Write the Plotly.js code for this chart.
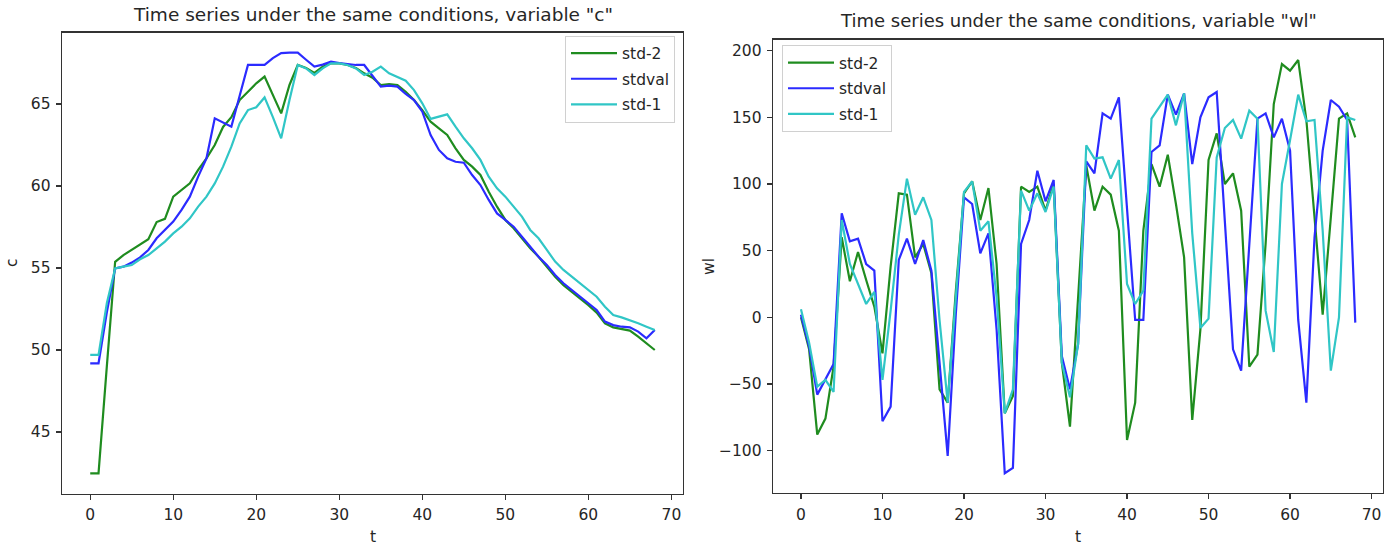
<!DOCTYPE html>
<html>
<head>
<meta charset="utf-8">
<script src="https://cdn.plot.ly/plotly-3.0.1.min.js"></script>
<style>
  html, body { margin: 0; padding: 0; background: #ffffff; }
  #chart { width: 1385px; height: 545px; }
</style>
</head>
<body>
<div id="chart"></div>
<script>
// ---- data ----
const t = Array.from({length: 69}, (_, i) => i);

const seriesNames = ["std-2", "stdval", "std-1"];
const seriesColors = ["#1f8c1f", "#2b2bff", "#30c6c6"];

// variable "c"
const cStd2 = [42.48, 42.48, 49.0, 55.38, 55.79, 56.1, 56.46, 56.75, 57.8, 58.0,
  59.35, 59.76, 60.16, 60.98, 61.69, 62.5, 63.6, 64.2, 65.24, 65.75,
  66.26, 66.67, 65.55, 64.43, 66.16, 67.38, 67.2, 66.9, 67.27, 67.48,
  67.48, 67.38, 67.2, 66.87, 66.6, 66.16, 66.22, 66.16, 65.75, 65.24,
  64.63, 63.92, 63.52, 63.11, 62.3, 61.59, 61.18, 60.67, 59.65, 58.74,
  57.93, 57.42, 56.81, 56.2, 55.69, 55.08, 54.47, 53.96, 53.56, 53.15,
  52.74, 52.28, 51.63, 51.38, 51.26, 51.18, 50.81, 50.41, 50.0];
const cStdval = [49.19, 49.19, 52.3, 54.98, 55.08, 55.33, 55.65, 56.1, 56.81, 57.32,
  57.83, 58.54, 59.35, 60.57, 61.69, 64.13, 63.86, 63.62, 65.5, 67.38,
  67.38, 67.38, 67.8, 68.1, 68.13, 68.13, 67.7, 67.28, 67.4, 67.58,
  67.5, 67.42, 67.38, 67.38, 66.7, 66.06, 66.12, 66.06, 65.61, 65.24,
  64.53, 63.11, 62.2, 61.69, 61.48, 61.42, 60.67, 60.06, 59.15, 58.33,
  57.93, 57.52, 56.91, 56.3, 55.69, 55.18, 54.57, 54.07, 53.66, 53.25,
  52.85, 52.44, 51.73, 51.52, 51.42, 51.38, 51.12, 50.71, 51.22];
const cStd1 = [49.7, 49.7, 52.85, 54.98, 55.08, 55.18, 55.53, 55.79, 56.2, 56.61,
  57.11, 57.52, 58.03, 58.74, 59.35, 60.16, 61.18, 62.4, 63.82, 64.63,
  64.8, 65.4, 64.2, 62.91, 65.24, 67.38, 67.17, 66.77, 67.17, 67.48,
  67.48, 67.38, 67.17, 66.77, 66.97, 67.28, 66.87, 66.63, 66.42, 65.85,
  65.04, 64.09, 64.23, 64.37, 63.62, 62.91, 62.3, 61.59, 60.57, 59.86,
  59.35, 58.74, 58.13, 57.32, 56.81, 56.1, 55.39, 54.88, 54.47, 54.07,
  53.66, 53.25, 52.64, 52.13, 51.99, 51.83, 51.63, 51.42, 51.22];

// variable "wl"
const wlStd2 = [0, -24, -88, -76, -37, 60, 27, 49, 28, 8,
  -27, 38, 93, 92, 45, 55, 33, -54, -64, 20,
  93, 102, 73, 97, 40, -72, -59, 98, 94, 98,
  80, 100, -34, -82, 15, 114, 80, 98, 92, 65,
  -92, -64, 65, 115, 98, 122, 85, 45, -77, -9,
  118, 138, 100, 108, 80, -37, -28, 55, 160, 190,
  185, 193, 148, 75, 2, 75, 149, 153, 135];
const wlStdval = [2, -22, -58, -47, -35, 78, 57, 59, 40, 35,
  -78, -67, 43, 59, 40, 58, 35, -34, -104, 3,
  90, 85, 48, 63, -9, -117, -113, 55, 73, 110,
  87, 103, -29, -54, -20, 117, 108, 153, 149, 165,
  80, -2, -2, 124, 129, 167, 152, 168, 115, 150,
  165, 169, 72, -24, -40, 55, 149, 153, 135, 149,
  125, -2, -64, 60, 125, 163, 158, 148, -4];
const wlStd1 = [6, -19, -52, -47, -56, 73, 40, 25, 10, 19,
  -47, 5, 62, 104, 77, 90, 73, -2, -64, 15,
  94, 102, 65, 72, 15, -72, -54, 95, 80, 93,
  79, 98, -34, -60, -20, 129, 119, 120, 104, 118,
  25, 10, 20, 149, 158, 167, 144, 168, 63, -8,
  -1, 120, 142, 148, 134, 155, 149, 5, -26, 100,
  133, 167, 147, 148, 65, -40, 0, 150, 148];

const xTicks = [0, 10, 20, 30, 40, 50, 60, 70];
const cTicks = [45, 50, 55, 60, 65];
const wlTicks = [-100, -50, 0, 50, 100, 150, 200];

const titleLeft = 'Time series under the same conditions, variable "c"';
const titleRight = 'Time series under the same conditions, variable "wl"';

// ---- traces ----
const cSeries = [cStd2, cStdval, cStd1];
const wlSeries = [wlStd2, wlStdval, wlStd1];
const traces = [];
cSeries.forEach((ys, i) => traces.push({
  x: t, y: ys, type: 'scatter', mode: 'lines', name: seriesNames[i],
  legendgroup: 'c' + i,
  line: {color: seriesColors[i], width: 2.2}, xaxis: 'x', yaxis: 'y', legend: 'legend'
}));
wlSeries.forEach((ys, i) => traces.push({
  x: t, y: ys, type: 'scatter', mode: 'lines', name: seriesNames[i],
  legendgroup: 'wl' + i,
  line: {color: seriesColors[i], width: 2.2}, xaxis: 'x2', yaxis: 'y2', legend: 'legend2'
}));

const W = 1385, H = 545;
const txt = '#262626';
const fam = 'DejaVu Sans, sans-serif';
const axisBase = {
  showgrid: false, zeroline: false, showline: true, mirror: true,
  linecolor: '#333333', linewidth: 1.3,
  ticks: 'outside', ticklen: 5, tickwidth: 1.2, tickcolor: '#333333',
  ticklabelstandoff: 2,
  tickfont: {family: fam, size: 15.5, color: txt}
};
const legendBase = {
  bgcolor: 'rgba(255,255,255,0.85)', bordercolor: '#d0d0d0', borderwidth: 1,
  font: {family: fam, size: 15.5, color: txt}, yanchor: 'top',
  tracegroupgap: 2.5, itemwidth: 46
};

const layout = {
  width: W, height: H,
  margin: {l: 0, r: 0, t: 0, b: 0},
  paper_bgcolor: '#ffffff', plot_bgcolor: '#ffffff',
  font: {family: fam, color: txt},
  showlegend: true,
  xaxis: Object.assign({}, axisBase, {domain: [62 / W, 683 / W], range: [-3.4, 71.4], tickvals: xTicks, anchor: 'y'}),
  yaxis: Object.assign({}, axisBase, {domain: [(H - 493.5) / H, (H - 32.5) / H], range: [41.25, 69.36], tickvals: cTicks, anchor: 'x'}),
  xaxis2: Object.assign({}, axisBase, {domain: [773 / W, 1383 / W], range: [-3.43, 71.4], tickvals: xTicks, anchor: 'y2'}),
  yaxis2: Object.assign({}, axisBase, {domain: [(H - 493) / H, (H - 39.5) / H], range: [-131.8, 208.4], tickvals: wlTicks, anchor: 'x2'}),
  legend: Object.assign({}, legendBase, {x: 675 / W, xanchor: 'right', y: (H - 35.5) / H}),
  legend2: Object.assign({}, legendBase, {x: 782 / W, xanchor: 'left', y: (H - 45) / H}),
  annotations: [
    {text: titleLeft, xref: 'paper', yref: 'paper', x: 373 / W, y: (H - 15) / H, xanchor: 'center', yanchor: 'middle', showarrow: false, font: {family: fam, size: 18.5, color: txt}},
    {text: titleRight, xref: 'paper', yref: 'paper', x: 1078 / W, y: (H - 21) / H, xanchor: 'center', yanchor: 'middle', showarrow: false, font: {family: fam, size: 18, color: txt}},
    {text: 't', xref: 'paper', yref: 'paper', x: 373 / W, y: (H - 537) / H, xanchor: 'center', yanchor: 'middle', showarrow: false, font: {family: fam, size: 15.5, color: txt}},
    {text: 't', xref: 'paper', yref: 'paper', x: 1078 / W, y: (H - 537) / H, xanchor: 'center', yanchor: 'middle', showarrow: false, font: {family: fam, size: 15.5, color: txt}},
    {text: 'c', xref: 'paper', yref: 'paper', x: 12 / W, y: (H - 263) / H, xanchor: 'center', yanchor: 'middle', textangle: -90, showarrow: false, font: {family: fam, size: 15.5, color: txt}},
    {text: 'wl', xref: 'paper', yref: 'paper', x: 709 / W, y: (H - 266) / H, xanchor: 'center', yanchor: 'middle', textangle: -90, showarrow: false, font: {family: fam, size: 15.5, color: txt}}
  ]
};

Plotly.newPlot('chart', traces, layout, {displayModeBar: false, staticPlot: true});
</script>
</body>
</html>
